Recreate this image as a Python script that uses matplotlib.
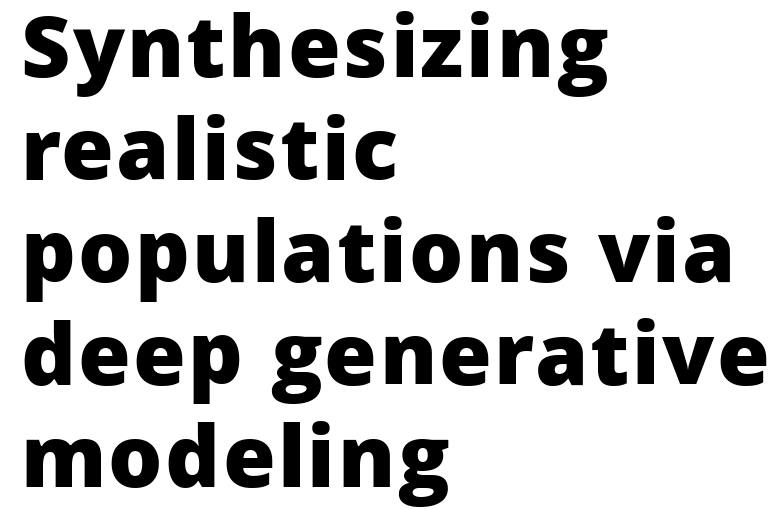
import matplotlib
matplotlib.use("Agg")
import matplotlib.pyplot as plt
from matplotlib import font_manager
from matplotlib.ft2font import FT2Font, KERNING_DEFAULT

title_lines = [
    "Synthesizing",
    "realistic",
    "populations via",
    "deep generative",
    "modeling",
]

W, H = 779, 509
DPI = 100
left_px = 20
first_baseline_px = 77
line_step_px = 102.5
font_px = 85.5
tracking_px = 2.35

fig = plt.figure(figsize=(W / DPI, H / DPI), dpi=DPI)
fig.patch.set_facecolor("white")

prop = font_manager.FontProperties(family="Open Sans", weight=800, size=font_px * 72 / DPI)
ft = FT2Font(font_manager.findfont(prop))
ft.set_size(font_px * 72 / DPI, DPI)


def advance(ch):
    glyph = ft.load_char(ord(ch))
    return glyph.linearHoriAdvance / 65536


# matplotlib has no letter-spacing, so place the glyphs one by one
for i, line in enumerate(title_lines):
    y_px = first_baseline_px + i * line_step_px
    x_px = left_px
    prev = None
    for ch in line:
        if prev is not None:
            x_px += ft.get_kerning(ft.get_char_index(ord(prev)), ft.get_char_index(ord(ch)), KERNING_DEFAULT) / 64
        if ch != " ":
            fig.text(x_px / W, 1 - y_px / H, ch, fontproperties=prop,
                     color="black", ha="left", va="baseline")
        x_px += advance(ch) + tracking_px
        prev = ch

fig.savefig("out.png", dpi=DPI)
